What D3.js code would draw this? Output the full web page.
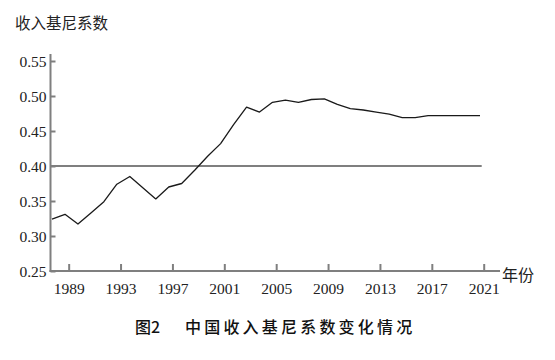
<!DOCTYPE html>
<html>
<head>
<meta charset="utf-8">
<script src="https://cdn.jsdelivr.net/npm/d3@7"></script>
<style>
  html, body { margin: 0; padding: 0; background: #fff; }
  svg { display: block; }
</style>
</head>
<body>
<svg id="chart" width="555" height="360"></svg>
<script>
// ---- data ----
const years = d3.range(1988, 2022);
const gini = [
  0.324, 0.331, 0.317, 0.333, 0.349, 0.374, 0.385, 0.369, 0.353, 0.370,
  0.375, 0.394, 0.414, 0.432, 0.459, 0.484, 0.477, 0.491, 0.494, 0.491,
  0.495, 0.496, 0.488, 0.482, 0.480, 0.477, 0.474, 0.469, 0.469, 0.472,
  0.472, 0.472, 0.472, 0.472
];
const yTicks = [0.25, 0.30, 0.35, 0.40, 0.45, 0.50, 0.55];
const xTickYears = [1989, 1993, 1997, 2001, 2005, 2009, 2013, 2017, 2021];
const refValue = 0.40;
const yTitle = "收入基尼系数";
const xTitle = "年份";
const figLabel = "图2";
const figTitle = "中国收入基尼系数变化情况";

// ---- layout ----
const svg = d3.select("#chart");
const axisColor = "#7f7f7f";
const x = d3.scaleLinear().domain([1988, 2021]).range([52, 480]);
const y = d3.scaleLinear().domain([0.25, 0.55]).range([271, 61]);
const axisLeftX = 50.5, axisRightX = 500, axisTopY = 54;
const tickShift = 3.7; // year labels sit slightly right of data points

// axes lines
svg.append("line").attr("x1", axisLeftX).attr("x2", axisLeftX)
  .attr("y1", axisTopY).attr("y2", y(0.25) + 1)
  .attr("stroke", axisColor).attr("stroke-width", 2);
svg.append("line").attr("x1", axisLeftX - 1).attr("x2", axisRightX)
  .attr("y1", y(0.25)).attr("y2", y(0.25))
  .attr("stroke", axisColor).attr("stroke-width", 2);

// y axis ticks
const yAxis = d3.axisLeft(y).tickValues(yTicks).tickSize(-5).tickPadding(10)
  .tickFormat(d3.format(".2f"));
const gy = svg.append("g").attr("transform", `translate(${axisLeftX},0)`).call(yAxis);
gy.select(".domain").remove();
gy.selectAll(".tick line").attr("stroke", axisColor).attr("stroke-width", 2);
gy.selectAll(".tick text")
  .attr("font-family", "'Liberation Serif', 'Times New Roman', serif")
  .attr("font-size", 15.5).attr("fill", "#222")
  .attr("x", -4).attr("dy", "0.36em");

// x axis ticks
const xAxis = d3.axisBottom(x).tickValues(xTickYears).tickSize(-7).tickPadding(12)
  .tickFormat(d3.format("d"));
const gx = svg.append("g").attr("transform", `translate(${tickShift},${y(0.25)})`).call(xAxis);
gx.select(".domain").remove();
gx.selectAll(".tick line").attr("stroke", axisColor).attr("stroke-width", 2);
gx.selectAll(".tick text")
  .attr("font-family", "'Liberation Serif', 'Times New Roman', serif")
  .attr("font-size", 15.5).attr("fill", "#222")
  .attr("y", 12).attr("dy", "0.71em");

// reference line
svg.append("line")
  .attr("x1", axisLeftX).attr("x2", x(2021) + 1.7)
  .attr("y1", y(refValue)).attr("y2", y(refValue))
  .attr("stroke", axisColor).attr("stroke-width", 2);

// data line
const line = d3.line()
  .x((d, i) => x(years[i]))
  .y(d => y(d))
  .curve(d3.curveLinear);
svg.append("path").datum(gini)
  .attr("d", line)
  .attr("fill", "none").attr("stroke", "#1a1a1a").attr("stroke-width", 1.3)
  .attr("stroke-linejoin", "round");

// titles
const cjk = "'Noto Sans CJK SC', 'Noto Sans', sans-serif";
svg.append("text").attr("x", 15).attr("y", 29)
  .attr("font-family", cjk).attr("font-size", 15.5).attr("fill", "#222")
  .text(yTitle);
svg.append("text").attr("x", 502).attr("y", 281)
  .attr("font-family", cjk).attr("font-size", 16).attr("fill", "#222")
  .text(xTitle);
svg.append("text").attr("x", 135).attr("y", 333)
  .attr("font-family", cjk).attr("font-size", 16).attr("font-weight", 500).attr("fill", "#111")
  .text(figLabel);
svg.append("text").attr("x", 185).attr("y", 333)
  .attr("font-family", cjk).attr("font-size", 16).attr("font-weight", 500).attr("fill", "#111")
  .attr("letter-spacing", 3.2)
  .text(figTitle);
</script>
</body>
</html>
